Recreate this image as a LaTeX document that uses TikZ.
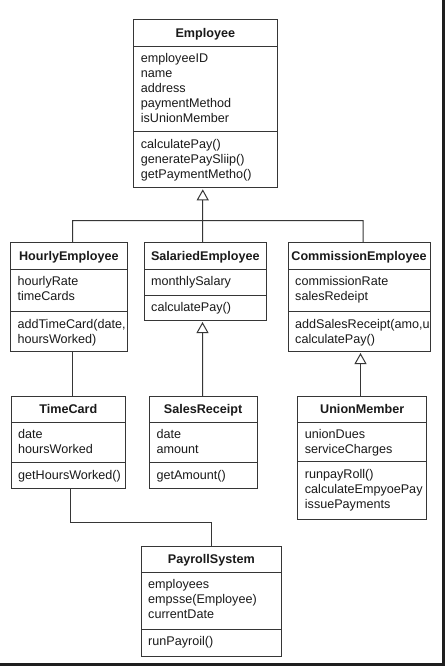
\documentclass[tikz,border=0pt]{standalone}
\usepackage{fontspec}
\setmainfont{Liberation Sans}
\usetikzlibrary{arrows.meta}
\definecolor{ln}{HTML}{363636}
\definecolor{tx}{HTML}{1A1A1A}
\definecolor{frm}{HTML}{1E1E1E}
\tikzset{
  cls/.style={draw=ln, line width=1pt, fill=white, inner sep=0pt, outer sep=0pt, anchor=north west},
  sepl/.style={draw=ln, line width=1pt},
  conn/.style={draw=ln, line width=1pt},
  inh/.style={conn, shorten >=2pt, -{Triangle[open, width=12pt, length=11pt]}},
  ttl/.style={font=\fontsize{12.6}{15}\selectfont\bfseries, text=tx, anchor=base, inner sep=0pt},
  txt/.style={font=\fontsize{12.6}{15}\selectfont, text=tx, anchor=base west, inner sep=0pt}
}
% #1 name, #2 L, #3 T, #4 R, #5 B, #6 sep1, #7 sep2, #8 title
\newcommand{\umlcls}[8]{%
  \node[cls, minimum width={(#4-#2)*1pt}, minimum height={(#5-#3)*1pt}] (#1) at (#2,#3) {};
  \draw[sepl] (#2,#6) -- (#4,#6);
  \draw[sepl] (#2,#7) -- (#4,#7);
  \node[ttl] (#1-t) at ({(#2+#4)/2},{(#3+#6)/2+4.5}) {#8};
}
% #1 prefix, #2 x, #3 first baseline, #4 list
\newcommand{\umllines}[4]{%
  \foreach \t [count=\i from 0] in {#4} {\node[txt] (#1\i) at (#2,{#3+15*\i}) {\t};}
}
\begin{document}
\begin{tikzpicture}[x=1pt,y=-1pt]
\useasboundingbox (0,0) rectangle (445,666);
\fill[white] (0,0) rectangle (445,666);
\fill[frm] (442,0) rectangle (445,666);
\fill[frm] (0,663) rectangle (445,666);

% Employee
\umlcls{emp}{133.3}{20}{277.3}{187.3}{46.7}{131.7}{Employee}
\umllines{empa}{140.7}{62.5}{employeeID,name,address,paymentMethod,isUnionMember}
\umllines{empm}{140.7}{148.3}{calculatePay(),generatePaySliip(),getPaymentMetho()}

% HourlyEmployee
\umlcls{hour}{10}{242.5}{127.7}{351}{269.3}{311}{HourlyEmployee}
\umllines{houra}{17.3}{285.3}{hourlyRate,timeCards}
\umllines{hourm}{17.3}{328}{{addTimeCard(date,},{hoursWorked)}}

% SalariedEmployee
\umlcls{sal}{144}{242.5}{266.7}{320}{269.3}{295}{SalariedEmployee}
\umllines{sala}{151}{285.3}{monthlySalary}
\umllines{salm}{151}{311.6}{calculatePay()}

% CommissionEmployee
\umlcls{comm}{288}{242.5}{430}{351}{269.3}{311}{CommissionEmployee}
\umllines{comma}{295}{285.3}{commissionRate,salesRedeipt}
\umllines{commm}{295}{328}{{addSalesReceipt(amo,u},{calculatePay()}}

% TimeCard
\umlcls{tc}{11}{396}{125.7}{488.3}{422}{462.3}{TimeCard}
\umllines{tca}{18}{438}{date,hoursWorked}
\umllines{tcm}{18}{479}{getHoursWorked()}

% SalesReceipt
\umlcls{sr}{149.3}{396}{257}{488.3}{422}{462.3}{SalesReceipt}
\umllines{sra}{156.3}{438}{date,amount}
\umllines{srm}{156.3}{479}{getAmount()}

% UnionMember
\umlcls{um}{297.7}{396}{426.7}{519}{422}{461.3}{UnionMember}
\umllines{uma}{304.7}{438}{unionDues,serviceCharges}
\umllines{umm}{304.7}{478}{runpayRoll(),calculateEmpyoePay,issuePayments}

% PayrollSystem
\umlcls{pay}{141}{546}{281.7}{656.7}{572.3}{629}{PayrollSystem}
\umllines{paya}{148}{588.3}{employees,empsse(Employee),currentDate}
\umllines{paym}{148}{645.6}{runPayroil()}

% connectors
\coordinate (busL) at (72.5,220.5);
\coordinate (busR) at (363,220.5);
\coordinate (tcy) at (0,522.8);
\draw[conn] ([xshift=3.65pt]hour.north) -- (busL) -- (busR) -- ([xshift=4pt]comm.north);
\draw[inh] ([xshift=-2.85pt]sal.north) -- ([xshift=-2.5pt]emp.south);
\draw[inh] ([xshift=-0.65pt]sr.north) -- ([xshift=-2.85pt]sal.south);
\draw[inh] ([xshift=-1.7pt]um.north) -- ([xshift=1.5pt]comm.south);
\draw[conn] ([xshift=3.65pt]hour.south) -- ([xshift=4.15pt]tc.north);
\draw[conn] ([xshift=2.45pt]tc.south) |- (tcy -| pay.north) -- (pay.north);
\end{tikzpicture}
\end{document}
